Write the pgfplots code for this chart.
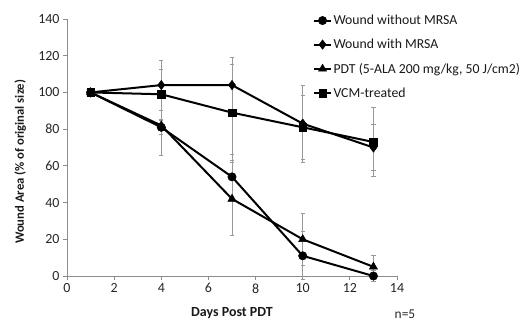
\documentclass[border=0pt]{standalone}
\usepackage{fontspec}
\setmainfont{Carlito}
\usepackage{pgfplots}
\pgfplotsset{compat=1.18}
\begin{document}
\begin{tikzpicture}
\begin{axis}[
 scale only axis, width=330bp, height=257bp,
 at={(0,0)}, anchor=south west,
 xmin=0, xmax=14, ymin=0, ymax=140,
 xtick={0,2,...,14}, ytick={0,20,...,140},
 axis x line*=bottom, axis y line*=left,
 axis line style={black!45, line width=0.9bp, -},
 tick align=outside, major tick length=4bp,
 tick style={black!45, line width=0.9bp},
 tick label style={font=\fontsize{14}{16}\selectfont, text=black!85},
 /pgf/number format/assume math mode=true,
 xlabel={\textbf{Days Post PDT}},
 ylabel={\textbf{Wound Area (\% of original size)}},
 label style={text=black!90},
 xlabel style={font=\fontsize{14}{16}\selectfont, at={(axis description cs:0.5,-0.144)}, anchor=center},
 ylabel style={font=\fontsize{12.7}{15}\selectfont, at={(axis description cs:-0.142,0.444)}, anchor=center},
 clip=false,
 legend style={at={(axis description cs:0.745,1.022)}, anchor=north west, draw=none, fill=none,
   font=\fontsize{13.8}{16}\selectfont, row sep=10bp, inner sep=0pt, nodes={inner sep=1.5bp, text=black!90}},
 legend cell align=left,
 error bars/y dir=both, error bars/y explicit,
 error bars/error bar style={black!40, line width=0.9bp},
 error bars/error mark options={black!40, rotate=90, mark size=2.2bp, line width=0.9bp},
 ser/.style={black, line width=2bp, mark options={solid, fill=black, line width=0.5bp}},
]
\addplot[ser, mark=*, mark size=4.2bp] coordinates {
 (1,100) +- (0,0) (4,81) +- (0,4) (7,54) +- (0,12) (10,11) +- (0,13) (13,0) +- (0,3)};
\addlegendentry{Wound without MRSA}
\addplot[ser, mark=diamond*, mark size=4.7bp] coordinates {
 (1,100) +- (0,0) (4,104) +- (0,13.6) (7,104) +- (0,15) (10,83) +- (0,21) (13,70) +- (0,12.5)};
\addlegendentry{Wound with MRSA}
\addplot[ser, mark=triangle*, mark size=4.7bp] coordinates {
 (1,100) +- (0,0) (4,82) +- (0,16.6) (7,42) +- (0,20) (10,20) +- (0,14) (13,5) +- (0,6.4)};
\addlegendentry{PDT (5-ALA 200 mg/kg, 50 J/cm2)}
\addplot[ser, mark=square*, mark size=3.8bp] coordinates {
 (1,100) +- (0,0) (4,99) +- (0,13.6) (7,89) +- (0,26) (10,81) +- (0,17.6) (13,73) +- (0,19)};
\addlegendentry{VCM-treated}
\node[font=\fontsize{13.5}{15}\selectfont, text=black!85] at (axis cs:14.34,-20.6) {n=5};
\end{axis}
\pgfresetboundingbox
\useasboundingbox (-67bp,-47bp) rectangle (453bp,276bp);
\end{tikzpicture}
\end{document}
